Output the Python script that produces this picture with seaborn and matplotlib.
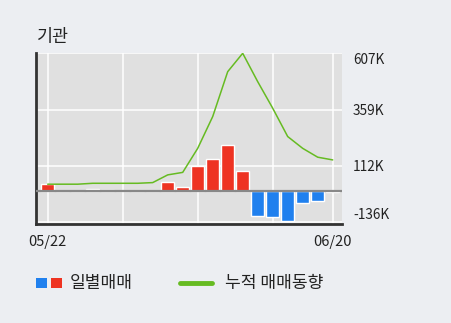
import matplotlib
matplotlib.use("Agg")
import matplotlib.pyplot as plt
import seaborn as sns
import pandas as pd
from matplotlib.patches import Rectangle
from matplotlib.lines import Line2D

dates = ["05/22", "05/23", "05/24", "05/27", "05/28", "05/29", "05/30", "05/31",
         "06/03", "06/04", "06/05", "06/07", "06/10", "06/11", "06/12", "06/13",
         "06/14", "06/17", "06/18", "06/20"]
daily = [31, 0, 0, 7, 6, 0, 0, 0, 40, 17, 110, 140, 204, 87,
         -111, -115, -134, -52, -44, -6]
cumulative = [30, 30, 30, 34, 34, 34, 34, 37, 71, 82, 188, 328, 526, 607,
              482, 365, 240, 188, 149, 137]
ytick_vals = [607, 359, 112, -136]
ytick_labels = ["607K", "359K", "112K", "-136K"]
xtick_idx = [0, 19]

W, H = 451, 323
sns.set_style("white")
plt.rcParams['font.family'] = ['Noto Sans CJK KR', 'DejaVu Sans']
plt.rcParams['axes.unicode_minus'] = False

BG = "#eceef2"
PLOT_BG = "#e0e0e0"
RED = "#ee3322"
BLUE = "#2080ee"
GREEN = "#66bb22"

fig = plt.figure(figsize=(W / 100, H / 100), dpi=100, facecolor=BG)
left, right, top, bottom = 36, 342, 53, 224
ax = fig.add_axes([left / W, 1 - bottom / H, (right - left) / W, (bottom - top) / H])
ax.set_facecolor(PLOT_BG)

df = pd.DataFrame({"idx": list(range(len(dates))), "date": dates, "daily": daily,
                   "cum": cumulative})
df["sign"] = ["pos" if v >= 0 else "neg" for v in daily]

sns.barplot(data=df, x="idx", y="daily", hue="sign", palette={"pos": RED, "neg": BLUE},
            dodge=False, legend=False, width=0.86, ax=ax, zorder=3, saturation=1)
ax.axhline(0, color="#888888", lw=1.6, zorder=4)
sns.lineplot(x=df["idx"].values, y=df["cum"].values, color=GREEN, lw=1.1, ax=ax, zorder=5)

ax.set_xlim(-0.78, 19.62)
ax.set_ylim(-145.5, 608.3)

# grid
for xi in [0, 5, 10, 15, 19]:
    ax.axvline(xi, color="white", lw=1.1, zorder=1)
for yv in ytick_vals:
    ax.axhline(yv, color="white", lw=1.1, zorder=1)

ax.yaxis.tick_right()
ax.set_yticks(ytick_vals)
ax.set_yticklabels(ytick_labels, fontsize=9.8, color="#222222")
ax.tick_params(axis="y", length=0, pad=8)
yl = ax.get_yticklabels()
yl[0].set_va("top")
yl[-1].set_va("bottom")

ax.set_xticks(xtick_idx)
ax.set_xticklabels([dates[i] for i in xtick_idx], fontsize=10.5, color="#222222")
ax.tick_params(axis="x", length=0, pad=8)
ax.set_xlabel("")
ax.set_ylabel("")

for s in ["top", "right"]:
    ax.spines[s].set_visible(False)
ax.spines["left"].set_color("#333333")
ax.spines["left"].set_linewidth(2)
ax.spines["bottom"].set_color("#333333")
ax.spines["bottom"].set_linewidth(2)

# title
fig.text(37 / W, 1 - 37 / H, "기관", fontsize=12.5, va="center", ha="left", color="#222222")

# legend
def fx(px):
    return px / W

def fy(py):
    return 1 - py / H

fig.add_artist(Rectangle((fx(36), fy(288)), 11 / W, 10 / H, transform=fig.transFigure,
                         color=BLUE, lw=0))
fig.add_artist(Rectangle((fx(51), fy(288)), 11 / W, 10 / H, transform=fig.transFigure,
                         color=RED, lw=0))
fig.text(fx(70), fy(283), "일별매매", fontsize=12.3, va="center", ha="left", color="#222222")
fig.add_artist(Line2D([fx(180), fx(212)], [fy(283), fy(283)], transform=fig.transFigure,
                      color=GREEN, lw=3.5))
fig.text(fx(225), fy(283), "누적 매매동향", fontsize=12.3, va="center", ha="left", color="#222222")

fig.savefig("out.png", dpi=100, facecolor=BG)
